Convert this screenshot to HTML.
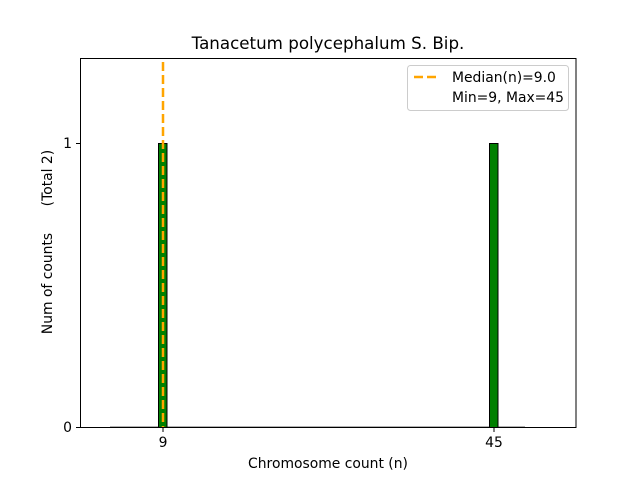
<!DOCTYPE html>
<html><head><meta charset="utf-8"><style>body{margin:0;background:#fff}svg{display:block}text{white-space:pre}</style></head>
<body>
<svg width="640" height="480" xmlns="http://www.w3.org/2000/svg" font-family="DejaVu Sans, Liberation Sans, sans-serif">
<rect width="640" height="480" fill="#fff"/>
<line x1="110" y1="427" x2="525" y2="427" stroke="#999" stroke-width="1.5"/>
<rect x="158.5" y="143.5" width="8.5" height="284" fill="green" stroke="#000" stroke-width="1"/>
<rect x="489.5" y="143.5" width="8.5" height="284" fill="green" stroke="#000" stroke-width="1"/>
<line x1="163" y1="62" x2="163" y2="427" stroke="orange" stroke-width="2.5" stroke-dasharray="9,4"/>
<rect x="80.5" y="58.5" width="495.5" height="369" fill="none" stroke="#000" stroke-width="1"/>
<g stroke="#000" stroke-width="1">
<line x1="80" y1="427.5" x2="76" y2="427.5"/>
<line x1="80" y1="143.5" x2="76" y2="143.5"/>
<line x1="163" y1="428" x2="163" y2="432"/>
<line x1="494" y1="428" x2="494" y2="432"/>
</g>
<g font-size="13.9" fill="#000">
<text x="72" y="432" text-anchor="end">0</text>
<text x="72" y="148" text-anchor="end">1</text>
<text x="163" y="447" text-anchor="middle">9</text>
<text x="494" y="447" text-anchor="middle">45</text>
<text x="328" y="468" text-anchor="middle">Chromosome count (n)</text>
<text transform="translate(52,242) rotate(-90)" text-anchor="middle" xml:space="preserve">Num of counts      (Total 2)</text>
</g>
<text x="328" y="49" text-anchor="middle" font-size="16.7">Tanacetum polycephalum S. Bip.</text>
<rect x="407.5" y="65.5" width="161" height="45" rx="3" fill="#fff" stroke="#ccc"/>
<line x1="414" y1="77" x2="438" y2="77" stroke="orange" stroke-width="2.5" stroke-dasharray="9,4"/>
<g font-size="13.9" fill="#000">
<text x="452" y="82">Median(n)=9.0</text>
<text x="452" y="102">Min=9, Max=45</text>
</g>
</svg>
</body></html>
